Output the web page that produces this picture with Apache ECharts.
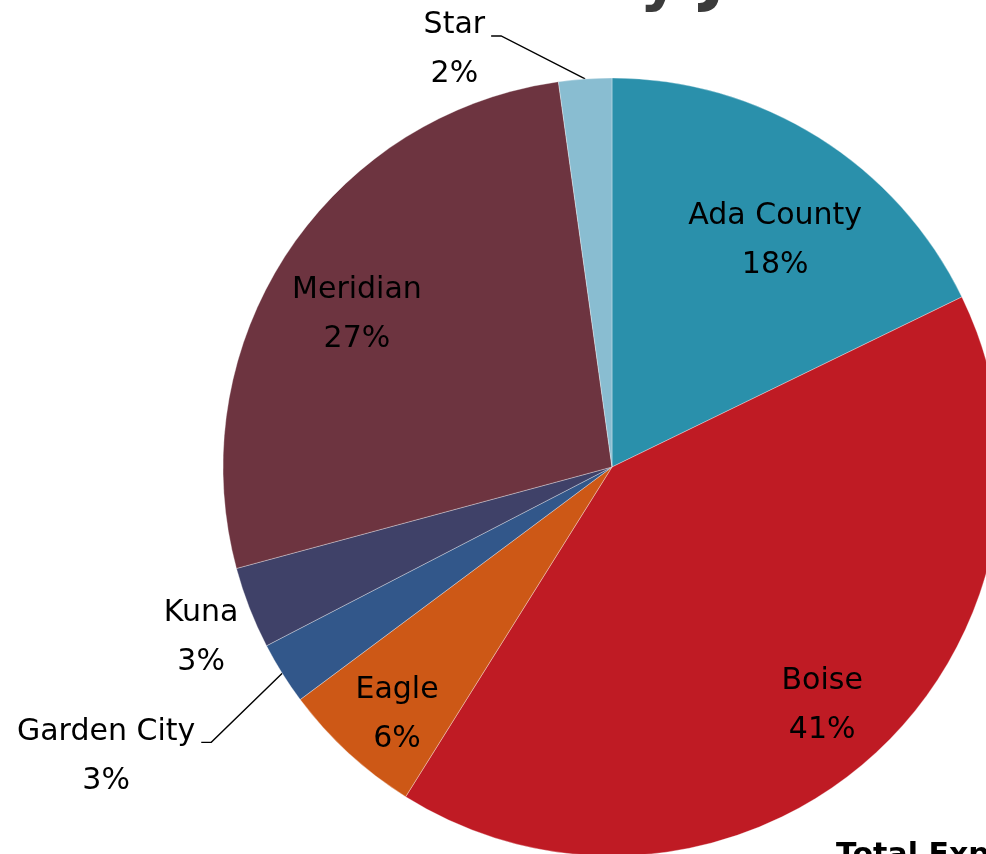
<!DOCTYPE html>
<html>
<head>
<meta charset="utf-8">
<script src="https://cdn.jsdelivr.net/npm/echarts@6/dist/echarts.min.js"></script>
<style>
  html, body {margin: 0; padding: 0; background: #fff;}
  #pie {width: 986px; height: 854px;}
</style>
</head>
<body>
<div id="pie"></div>
<script>
// slices, clockwise from 12 o'clock
const names = ['Ada County', 'Boise', 'Eagle', 'Garden City', 'Kuna', 'Meridian', 'Star']
const shares = [17.8, 41.1, 5.9, 2.6, 3.4, 27.0, 2.2]
const colors = ['#2a90ab', '#bf1b24', '#cd5816', '#32578a', '#3f4168', '#6d3440', '#89bdd1']

const center = [612, 467]
const radius = 389
// where each label goes: inside ones at a fraction of the radius (turn = degrees off the slice middle),
// outside ones offset from the point where the slice meets the rim
const labelPlace = [
  {inside: 0.718, turn: 3.7},
  {inside: 0.818, turn: 0.6},
  {inside: 0.843, turn: -1.7},
  {dx: -87, dy: 34, line: true},
  {dx: -11, dy: -19},
  {inside: 0.764, turn: -2.6},
  {dx: -100, dy: -78, line: true}
]

const total = shares.reduce((a, b) => a + b, 0)
const midAngles = []
let acc = 0
shares.forEach(v => {
  midAngles.push((acc + v / 2) / total * Math.PI * 2)
  acc += v
})

const chart = echarts.init(document.getElementById('pie'))

const option = {
  animation: false,
  backgroundColor: '#fff',
  graphic: [
    {
      // chart title, only its descenders are left in the picture
      type: 'text',
      x: 80,
      y: -17,
      style: {
        text: 'Total Revenue by Jurisdiction',
        font: 'bold 62px "DejaVu Sans"',
        fill: '#3b3b3b',
        verticalAlign: 'middle'
      }
    },
    {
      type: 'text',
      x: 836,
      y: 856,
      style: {
        text: 'Total Expenditures',
        font: 'bold 30px "DejaVu Sans"',
        fill: '#000',
        verticalAlign: 'middle'
      }
    }
  ],
  series: [
    {
      type: 'pie',
      center: center,
      radius: radius,
      startAngle: 90,
      clockwise: true,
      avoidLabelOverlap: false,
      itemStyle: {
        borderColor: 'rgba(255,255,255,0.55)',
        borderWidth: 0.6
      },
      label: {
        show: true,
        position: 'outside',
        color: '#000',
        fontFamily: 'DejaVu Sans',
        fontSize: 30,
        lineHeight: 49,
        formatter: p => p.name + '\n' + Math.round(p.percent) + '%'
      },
      labelLine: {
        show: false,
        lineStyle: {color: '#000', width: 1.4}
      },
      labelLayout: params => {
        const i = params.dataIndex
        const pl = labelPlace[i]
        if (pl.inside) {
          const b = midAngles[i] + pl.turn * Math.PI / 180
          return {
            x: center[0] + pl.inside * radius * Math.sin(b),
            y: center[1] - pl.inside * radius * Math.cos(b),
            align: 'center',
            verticalAlign: 'middle'
          }
        }
        const a = midAngles[i]
        const ex = center[0] + radius * Math.sin(a)
        const ey = center[1] - radius * Math.cos(a)
        const right = ex + pl.dx
        const top = ey + pl.dy
        const res = {
          x: right - params.labelRect.width / 2,
          y: top,
          align: 'center',
          verticalAlign: 'top'
        }
        if (pl.line) {
          res.labelLinePoints = [[ex, ey], [right + 16, top + 35], [right + 6, top + 35]]
        }
        return res
      },
      data: names.map((n, i) => ({
        name: n,
        value: shares[i],
        itemStyle: {color: colors[i]},
        labelLine: {show: !!labelPlace[i].line}
      }))
    }
  ]
}
chart.setOption(option)
</script>
</body>
</html>
